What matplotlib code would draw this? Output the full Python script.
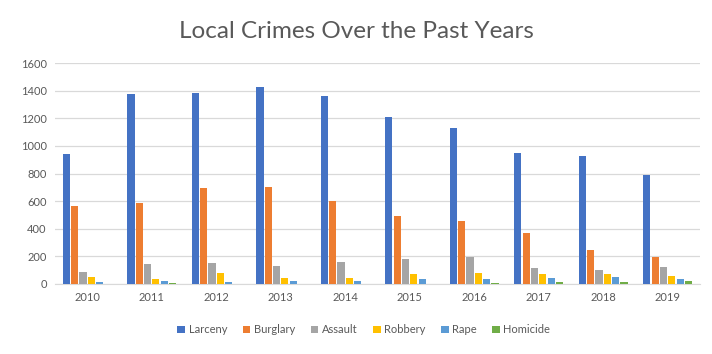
import matplotlib.pyplot as plt
import numpy as np

years = ["2010", "2011", "2012", "2013", "2014", "2015", "2016", "2017", "2018", "2019"]
larceny = [941, 1377, 1384, 1430, 1362, 1208, 1128, 946, 929, 787]
burglary = [561, 588, 692, 699, 598, 489, 453, 365, 242, 191]
assault = [85, 145, 152, 131, 160, 179, 196, 116, 102, 123]
robbery = [51, 36, 75, 44, 44, 73, 80, 70, 73, 58]
rape = [12, 17, 15, 22, 22, 36, 36, 44, 48, 36]
homicide = [0, 5, 0, 0, 0, 0, 5, 10, 10, 17]

series = [
    ("Larceny", larceny, "#4472C4"),
    ("Burglary", burglary, "#ED7D31"),
    ("Assault", assault, "#A5A5A5"),
    ("Robbery", robbery, "#FFC000"),
    ("Rape", rape, "#5B9BD5"),
    ("Homicide", homicide, "#70AD47"),
]

plt.rcParams['font.family'] = ['Lato', 'DejaVu Sans']

fig = plt.figure(figsize=(7.12, 3.54), dpi=100)
ax = fig.add_axes([0.0772, 0.1986, 0.9058, 0.6224])

x = np.arange(len(years))
pitch = 0.129
width = 0.112
for i, (name, vals, col) in enumerate(series):
    ax.bar(x + (i - 2.5) * pitch, vals, width, color=col, label=name, zorder=3)

ax.set_xlim(-0.5, 9.5)
ax.set_ylim(0, 1600)
ax.set_yticks(np.arange(0, 1601, 200))
ax.set_xticks(x)
ax.set_xticklabels(years)
ax.grid(axis="y", color="#d9d9d9", lw=0.9, zorder=0)
for sp in ["top", "right", "left"]:
    ax.spines[sp].set_visible(False)
ax.spines["bottom"].set_color("#d9d9d9")
ax.tick_params(length=0, labelsize=8, colors="#595959", pad=6)

fig.suptitle("Local Crimes Over the Past Years", y=0.94, fontsize=17.5, color="#595959")
fig.legend(loc="center", bbox_to_anchor=(0.511, 0.068), ncol=6, frameon=False,
           fontsize=8, handlelength=0.7, handleheight=0.7, handletextpad=0.3,
           columnspacing=1.4, labelcolor="#595959")

fig.savefig("out.png", dpi=100)
